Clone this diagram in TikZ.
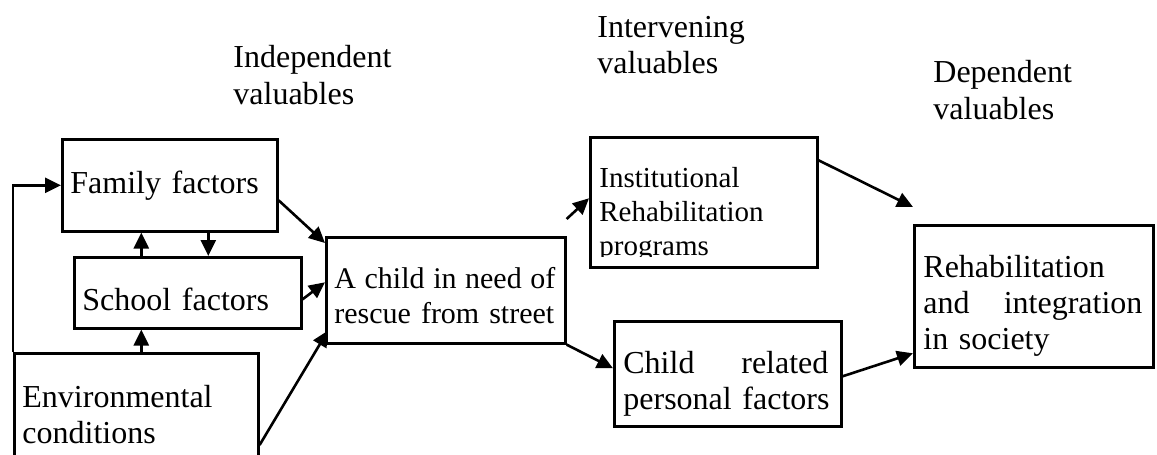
\documentclass[tikz,border=0pt]{standalone}
\usepackage{fontspec}
\setmainfont{Liberation Serif}
\usetikzlibrary{arrows.meta}

\begin{document}
\begin{tikzpicture}[x=0.5pt, y=-0.5pt,
	kasten/.style={draw=black, line width=1.3pt, rectangle, inner sep=0pt, anchor=north west},
	schrift/.style={inner sep=0pt, anchor=base west, align=left, text width=140pt,
		font=\fontsize{16}{18}\selectfont},
	pfeil/.style={line width=1.3pt, -{Triangle[length=8pt, width=7.5pt]}}]
	\useasboundingbox (0,0) rectangle (1157,455);

	% Ueberschriften
	\node[schrift] (indep) at (233,68) {Independent\\valuables};
	\node[schrift] (interv) at (597,37) {Intervening\\valuables};
	\node[schrift] (depend) at (933,83) {Dependent\\valuables};

	% Kaesten
	\node[kasten, minimum width=107.5pt, minimum height=46pt] (family) at (61,138) {};
	\node[kasten, minimum width=113.5pt, minimum height=35.5pt] (school) at (73,256) {};
	\node[kasten, minimum width=122pt, minimum height=64pt] (env) at (13,352) {};
	\node[kasten, minimum width=119.5pt, minimum height=53pt] (child) at (325,236) {};
	\node[kasten, minimum width=113.5pt, minimum height=65pt] (inst) at (589,136) {};
	\node[kasten, minimum width=113.5pt, minimum height=52.5pt] (childrel) at (613,320) {};
	\node[kasten, minimum width=119.5pt, minimum height=71pt] (rehab) at (913,224) {};

	% Texte in den Kaesten
	\node[schrift] (familytext) at (70,193) {Family factors};
	\node[schrift] (schooltext) at (82,310) {School factors};
	\node[schrift] (envtext) at (22,407) {Environmental\\conditions};
	\node[schrift, font=\fontsize{15}{17.5}\selectfont] (childtext) at (334,288)
		{\makebox[110.5pt][l]{A\hfill child\hfill in\hfill need\hfill of}\\rescue from street};
	\begin{scope}
		\clip (589,136) rectangle (816,256);
		\node[schrift, font=\fontsize{14.5}{17}\selectfont] (insttext) at (599,187)
			{Institutional\\Rehabilitation\\programs};
	\end{scope}
	\node[schrift] (childreltext) at (623,373)
		{\makebox[102.5pt][l]{Child\hfill related}\\personal factors};
	\node[schrift] (rehabtext) at (923,277)
		{Rehabilitation\\\makebox[109.5pt][l]{and\hfill integration}\\in society};

	% Verbindungen
	\coordinate (schoolup) at ([xshift=-23.25pt]school.north);
	\coordinate (familydown) at ([xshift=19.25pt]family.south);
	\draw[pfeil] (schoolup) -- (schoolup |- family.south);
	\draw[pfeil] (familydown) -- (familydown |- school.north);
	\draw[pfeil] (schoolup |- env.north) -- (schoolup |- school.south);
	\draw[pfeil] (env.north west) |- (family.west);
	\draw[pfeil] ([yshift=-7.5pt]family.east) -- ([yshift=-3.5pt]child.north west);
	\draw[pfeil] ([yshift=-3.25pt]school.east) -- ([yshift=4pt]child.west);
	\draw[pfeil] ([yshift=-46.5pt]env.north east) -- ([xshift=1.5pt, yshift=7pt]child.south west);
	\coordinate (instfrom) at ([yshift=8.5pt]child.north east);
	\draw[pfeil] (instfrom) -- ([yshift=2pt]inst.west);
	\draw[pfeil] (child.south east) -- ([yshift=2.75pt]childrel.west);
	\coordinate (rehabto) at ([yshift=8.5pt]rehab.north west);
	\draw[pfeil] ([yshift=21pt]inst.east) -- (rehabto);
	\draw[pfeil] ([yshift=-1.25pt]childrel.east) -- ([yshift=-28.5pt]rehab.west);
\end{tikzpicture}
\end{document}
